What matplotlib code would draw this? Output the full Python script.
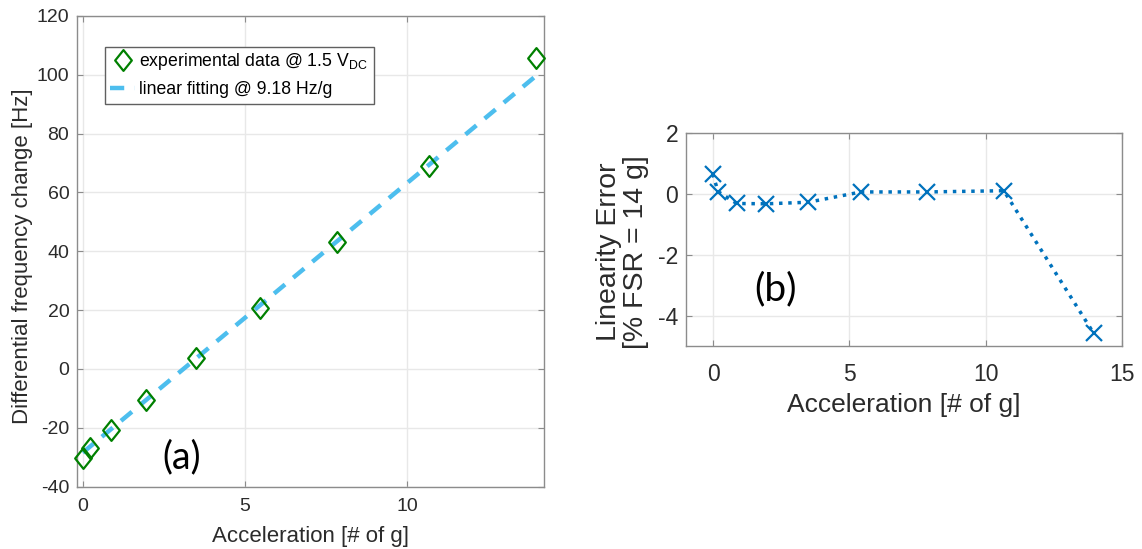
import matplotlib
matplotlib.use("Agg")
import matplotlib.pyplot as plt
from matplotlib.path import Path
from matplotlib.patches import Rectangle

plt.rcParams['font.family'] = ['Liberation Sans', 'DejaVu Sans']
plt.rcParams['mathtext.fontset'] = 'custom'
plt.rcParams['mathtext.rm'] = 'Liberation Sans'
plt.rcParams['mathtext.it'] = 'Liberation Sans'
plt.rcParams['axes.unicode_minus'] = False

# ---- data ----
accel = [0.0, 0.22, 0.87, 1.95, 3.49, 5.46, 7.84, 10.68, 13.97]
freq_change = [-30.2, -26.8, -20.7, -10.5, 3.7, 20.8, 43.0, 69.0, 105.8]
fit_x = [0.0, 13.97]
fit_y = [-28.5, 99.7]
lin_x = [-0.02, 0.18, 0.86, 1.95, 3.48, 5.43, 7.85, 10.67, 13.97]
lin_err = [0.66, 0.08, -0.31, -0.32, -0.27, 0.07, 0.07, 0.11, -4.58]

left_xticks = [0, 5, 10]
left_yticks = [-40, -20, 0, 20, 40, 60, 80, 100, 120]
right_xticks = [0, 5, 10, 15]
right_yticks = [-4, -2, 0, 2]

tick_col = '#2b2b2b'
spine_col = '#8c8c8c'
grid_col = '#e8e8e8'

W, H = 1142, 549
fig = plt.figure(figsize=(W / 100, H / 100), dpi=100)

diamond = Path([(0, 1), (0.8, 0), (0, -1), (-0.8, 0), (0, 1)],
               [Path.MOVETO, Path.LINETO, Path.LINETO, Path.LINETO, Path.CLOSEPOLY])

def style(ax, fs, xpad, ypad):
    for s in ax.spines.values():
        s.set_color(spine_col)
        s.set_linewidth(1.0)
    ax.tick_params(direction='in', colors=spine_col, labelcolor=tick_col,
                   labelsize=fs, length=4, top=True, right=True)
    ax.tick_params(axis='x', pad=xpad)
    ax.tick_params(axis='y', pad=ypad)
    ax.grid(True, color=grid_col, linewidth=1.0)
    ax.set_axisbelow(True)

# ---- left panel ----
ax1 = fig.add_axes([76.7 / W, 1 - 486.5 / H, (544 - 76.7) / W, (486.5 - 16) / H])
ax1.plot(fit_x, fit_y, color='#4DBEEE', lw=3.2, dashes=(3.2, 2.4),
         label='linear fitting @ 9.18 Hz/g', zorder=2)
ax1.plot(accel, freq_change, linestyle='none', marker=diamond, markersize=15,
         markerfacecolor='none', markeredgecolor='#008000', markeredgewidth=1.6,
         label=r'experimental data @ 1.5 V$_{\mathrm{DC}}$', zorder=3, clip_on=False)
ax1.set_xlim(-0.185, 14.21)
ax1.set_ylim(-40, 120)
ax1.set_xticks(left_xticks)
ax1.set_yticks(left_yticks)
style(ax1, 14, 8.5, 5.3)
ax1.set_xlabel('Acceleration [# of g]', fontsize=16, color=tick_col, va='center')
ax1.xaxis.set_label_coords(0.5, -0.1067)
ax1.set_ylabel('Differential frequency change [Hz]', fontsize=16, color=tick_col, va='center')
ax1.yaxis.set_label_coords(-0.115, 0.49)

# legend frame + entries
frame = Rectangle((105.3 / W, 1 - 104.3 / H), (374 - 105.3) / W, (104.3 - 46.7) / H,
                  transform=fig.transFigure, facecolor='white',
                  edgecolor='#606060', lw=1.0, zorder=6, clip_on=False)
ax1.add_artist(frame)
h, l = ax1.get_legend_handles_labels()
leg = ax1.legend(h[::-1], l[::-1], loc='upper left',
                 bbox_to_anchor=(110 / W, 1 - 51 / H), bbox_transform=fig.transFigure,
                 fontsize=12.7, frameon=False, handlelength=1.42, borderpad=0,
                 borderaxespad=0, labelspacing=0.5, handletextpad=0.2, markerscale=1.0)
leg.set_zorder(7)
ax1.text(3.04, -29.9, '(a)', fontsize=27, family=['Lato', 'DejaVu Sans'],
         ha='center', va='center', color='black')

# ---- right panel ----
ax2 = fig.add_axes([686 / W, 1 - 346 / H, (1121.7 - 686) / W, (346 - 133.3) / H])
ax2.plot(lin_x, lin_err, color='#0072BD', lw=2.5, linestyle=':',
         marker='x', markersize=11, markeredgewidth=1.6, clip_on=False)
ax2.set_xlim(-1, 15)
ax2.set_ylim(-5, 2)
ax2.set_xticks(right_xticks)
ax2.set_yticks(right_yticks)
style(ax2, 16.5, 12, 5.5)
ax2.set_xlabel('Acceleration [# of g]', fontsize=19, color=tick_col, va='center')
ax2.xaxis.set_label_coords(0.5, -0.277)
ax2.set_ylabel('Linearity Error\n[% FSR = 14 g]', fontsize=20.5, color=tick_col,
               linespacing=1.05, va='center')
ax2.yaxis.set_label_coords(-0.1457, 0.442)
ax2.text(2.29, -3.12, '(b)', fontsize=28, family=['Lato', 'DejaVu Sans'],
         ha='center', va='center', color='black')

fig.savefig('out.png', dpi=100)
